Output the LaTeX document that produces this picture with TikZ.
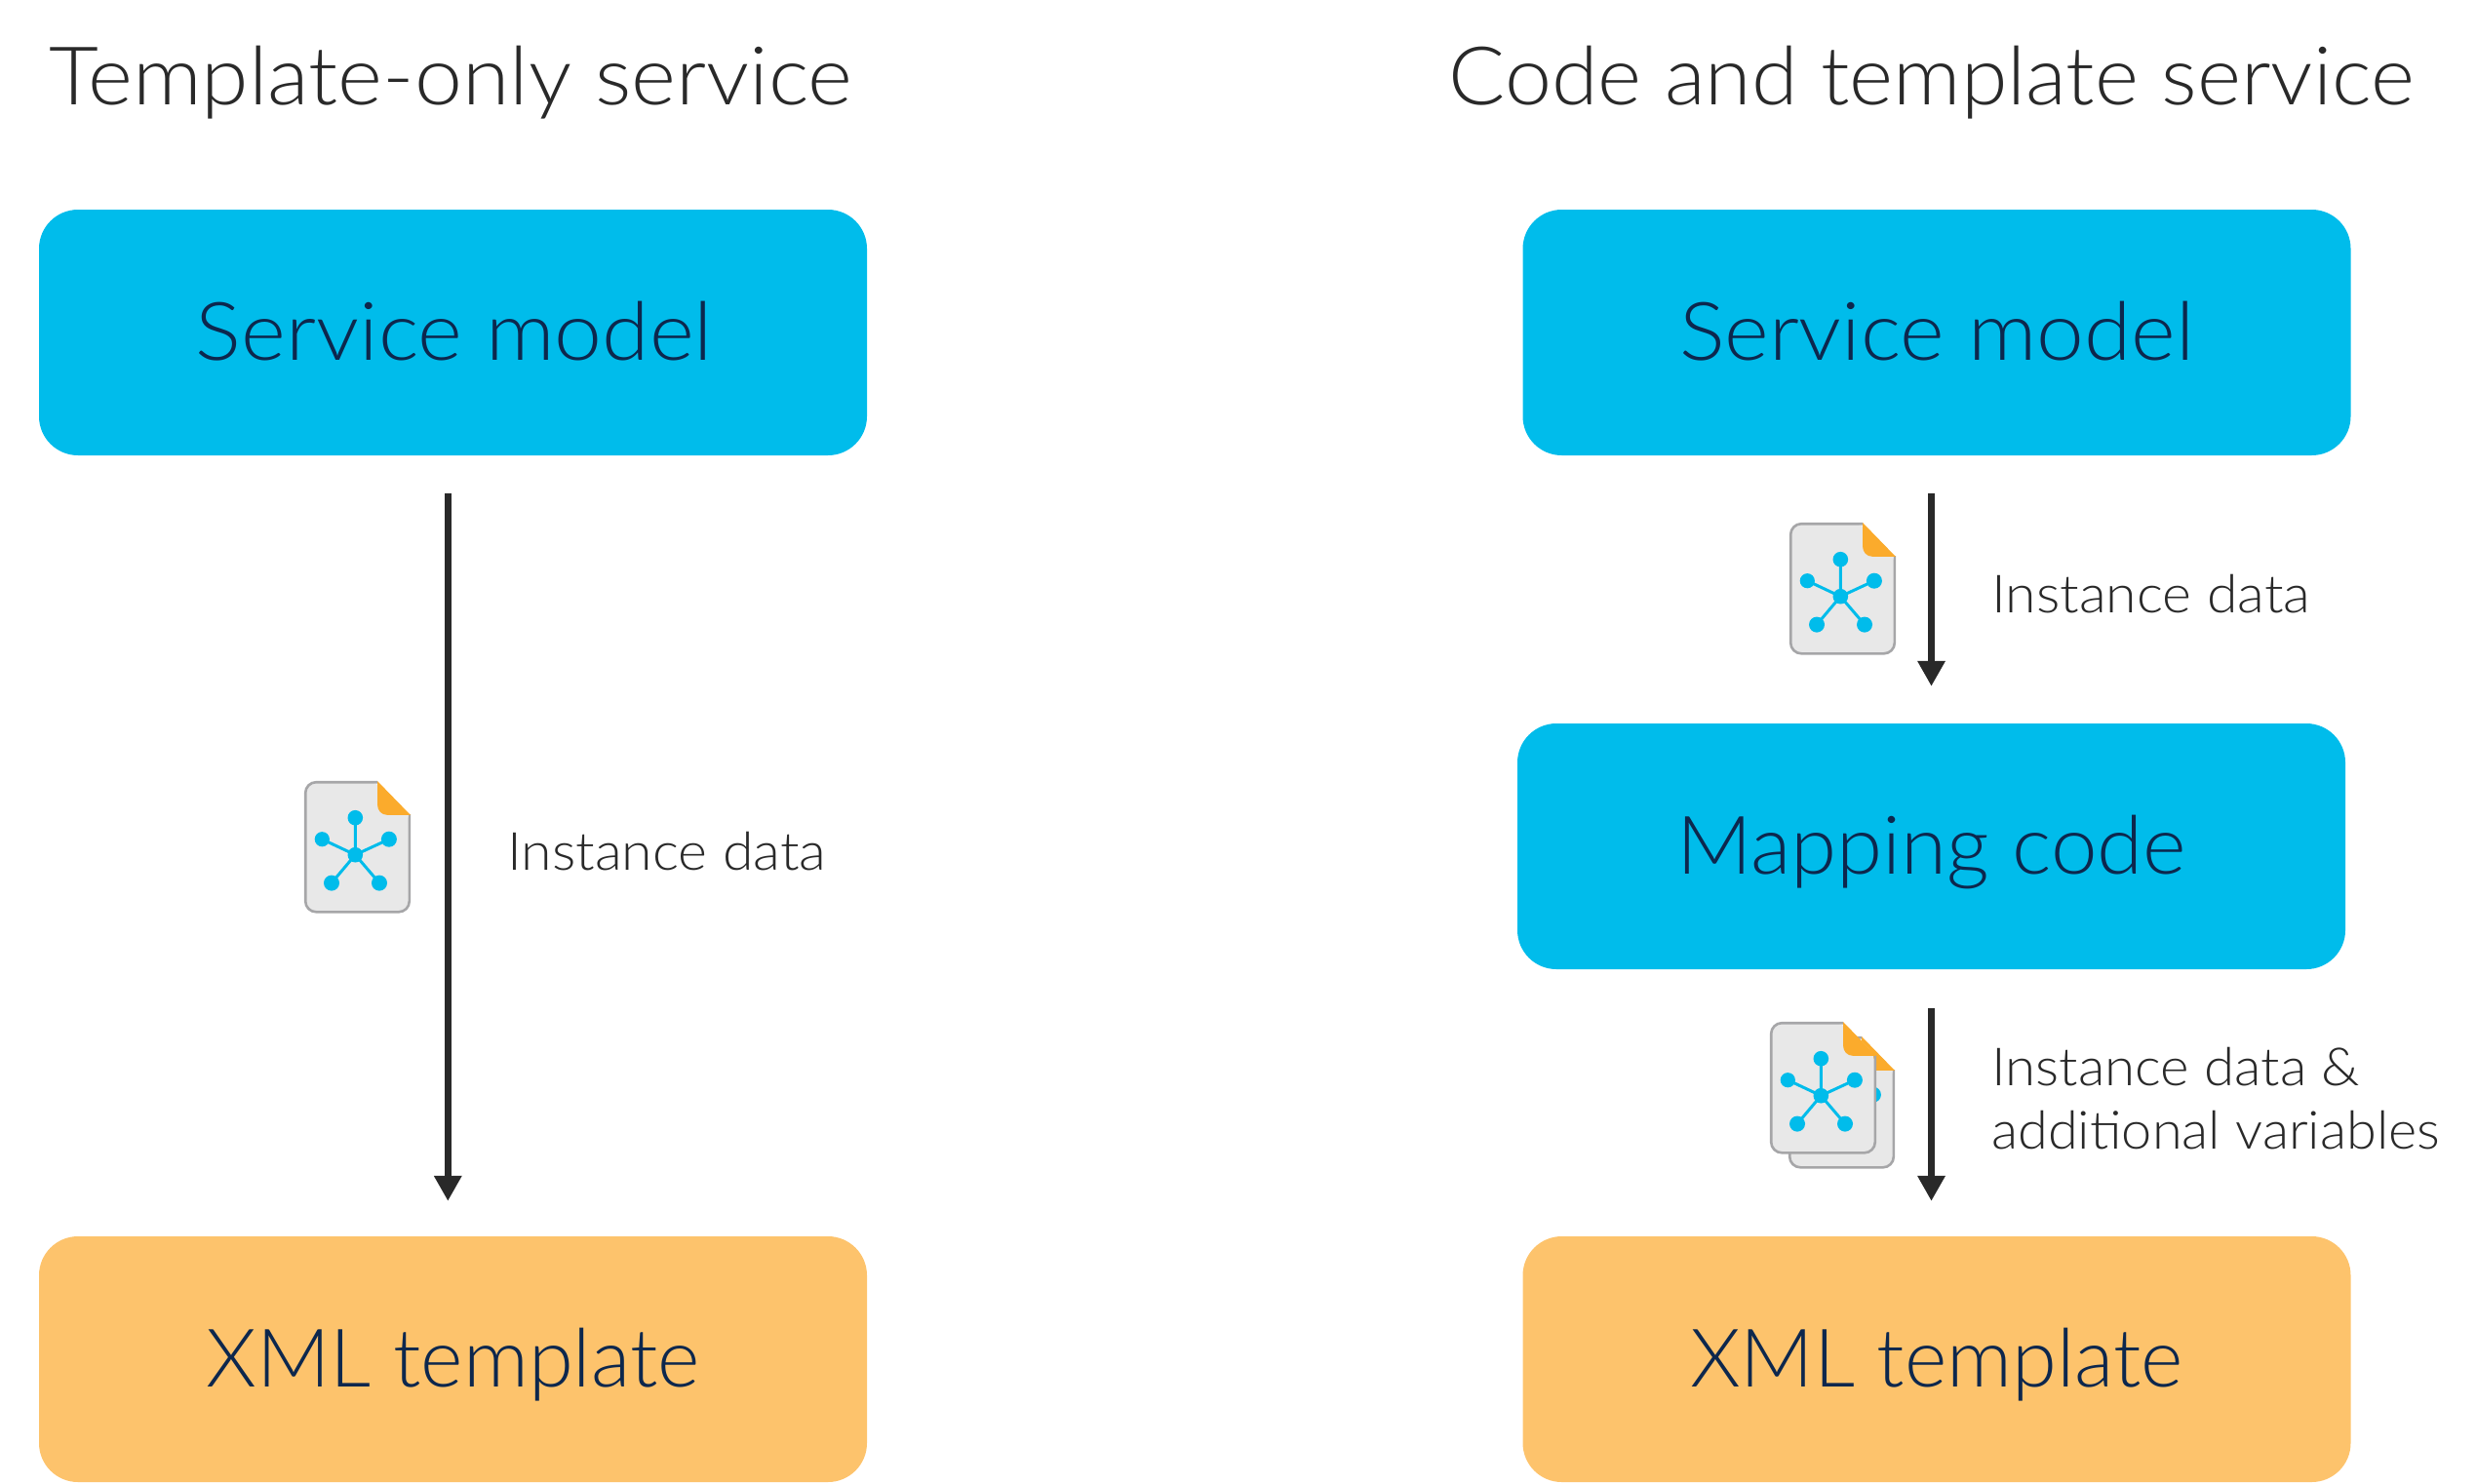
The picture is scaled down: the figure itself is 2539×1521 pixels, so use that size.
\documentclass[tikz,border=0pt]{standalone}
\usepackage{graphicx}
\usepackage{fontspec}
\setmainfont{Lato}[UprightFont={* Light}]
\usetikzlibrary{arrows.meta}
\newcommand{\fitw}[2]{\resizebox{#1pt}{\height}{#2}}
\definecolor{ciscoblue}{HTML}{00BCEB}
\definecolor{boxorange}{HTML}{FDC36C}
\definecolor{foldorange}{HTML}{FBAB2C}
\definecolor{navy}{HTML}{0D274D}
\definecolor{ink}{HTML}{292929}
\definecolor{docgray}{HTML}{A6A6A8}
\definecolor{docfill}{HTML}{E8E8E8}
\tikzset{
  box/.style={rounded corners=40pt,minimum width=849pt,minimum height=252pt,inner sep=0pt,
    text=navy,text height=57pt,text depth=0pt,font=\fontsize{83}{83}\selectfont},
  bluebox/.style={box,fill=ciscoblue},
  orangebox/.style={box,fill=boxorange},
  titletext/.style={anchor=base west,inner sep=0pt,text=ink,font=\fontsize{83}{83}\selectfont},
  smalltext/.style={anchor=base west,inner sep=0pt,text=ink,align=left,font=\fontsize{54}{65}\selectfont},
  flow/.style={draw=ink,line width=7.3pt,-{Triangle[length=26pt,width=27pt]}},
  pics/docicon/.style={code={
    \fill[docfill,rounded corners=11pt] (75,1) -- (1,1) -- (1,134.5) -- (108,134.5) -- (108,34) -- cycle;
    \draw[docgray,line width=2.6pt,rounded corners=11pt] (75,1.2) -- (1.2,1.2) -- (1.2,134.3) -- (107.8,134.3) -- (107.8,34);
    \fill[foldorange] (75,0) -- (108.8,34.8) -- (85,34.8) .. controls (79,34.8) and (75,30) .. (75,24) -- cycle;
    \draw[ciscoblue,line width=3pt] (52.3,37.7) -- (52.3,75.7) (18.3,59.7) -- (52.3,75.7) (86.9,59.7) -- (52.3,75.7) (28,104.6) -- (52.3,75.7) (77,104.6) -- (52.3,75.7);
    \fill[ciscoblue] (52.3,75.7) circle[radius=7.8pt] (52.3,37.7) circle[radius=7.8pt]
      (18.3,59.7) circle[radius=7.6pt] (86.9,59.7) circle[radius=8pt]
      (28,104.6) circle[radius=8pt] (77,104.6) circle[radius=8pt];
  }}
}
\begin{document}
\begin{tikzpicture}[x=1pt,y=-1pt]
\useasboundingbox (0,0) rectangle (2539,1521);
% titles
\node[titletext] (t1) at (50,107) {\fitw{824}{Template-only service}};
\node[titletext] (t2) at (1485.5,107) {\fitw{990}{Code and template service}};
% left column
\node[bluebox] (sm1) at (464.5,341) {\fitw{530}{Service model}\hspace*{-3pt}};
\node[orangebox] (xml1) at (464.5,1394) {\fitw{506}{XML template}};
\draw[flow,shorten <=39pt,shorten >=36pt] ([xshift=-5.2pt]sm1.south) -- ([xshift=-5.2pt]xml1.north);
\pic at (312,801) {docicon};
\node[smalltext] (i1) at (520,892) {\fitw{327}{Instance data}};
% right column
\node[bluebox] (sm2) at (1986,341) {\fitw{528}{Service model}};
\node[bluebox] (map) at (1980.5,868) {\fitw{523}{Mapping code}};
\node[orangebox] (xml2) at (1986,1394) {\fitw{506}{XML template}};
\draw[flow,shorten <=39pt,shorten >=38pt] (map.north |- sm2.south) -- (map.north);
\draw[flow,shorten <=40pt,shorten >=36pt] (map.south) -- (map.south |- xml2.north);
\pic at (1835,536) {docicon};
\node[smalltext] (i2) at (2042,628) {\fitw{327}{Instance data}};
\pic at (1834,1063) {docicon};
\pic at (1815,1048) {docicon};
\node[smalltext] (i3) at (2042,1178) {\fitw{378}{Instance data \&}\\\fitw{460}{additional variables}};
\end{tikzpicture}
\end{document}
